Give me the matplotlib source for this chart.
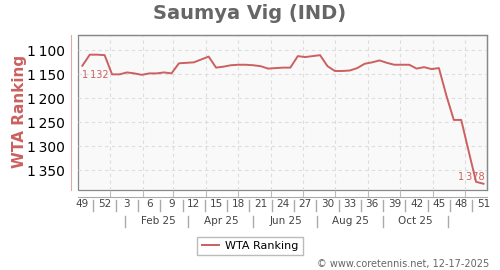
import numpy as np
import pandas as pd
import matplotlib
matplotlib.use('Agg')
import matplotlib.pyplot as plt
import matplotlib.dates as mdates
from matplotlib.lines import Line2D

# data
start_week = '2024-12-02'
ranking = [1132, 1109, 1109, 1110, 1150, 1150, 1146, 1148, 1151, 1148,
           1148, 1146, 1148, 1127, 1126, 1125, 1119, 1113, 1136, 1134,
           1131, 1130, 1130, 1131, 1133, 1138, 1137, 1136, 1136, 1112,
           1114, 1112, 1110, 1133, 1143, 1143, 1142, 1137, 1128, 1125,
           1121, 1126, 1130, 1130, 1130, 1138, 1135, 1139, 1137, 1194,
           1245, 1245, 1310, 1374, 1378]
month_labels = ['Feb 25', 'Apr 25', 'Jun 25', 'Aug 25', 'Oct 25']
month_label_dates = ['2025-02-15', '2025-04-15', '2025-06-15', '2025-08-15', '2025-10-15']
month_sep_dates = ['2025-01-15', '2025-03-15', '2025-05-15', '2025-07-15', '2025-09-15', '2025-11-15']
y_ticks = [1100, 1150, 1200, 1250, 1300, 1350]

mondays = pd.date_range(start_week, periods=len(ranking), freq='7D')
weeks = [d.isocalendar()[1] for d in mondays]
x = mdates.date2num(mondays) + 3.5

red = '#cc6060'
grey = '#888888'

fig = plt.figure(figsize=(5, 2.7), dpi=100)
ax = fig.add_axes([78/500, 1-190/270, 409/500, 155/270])
ax.set_facecolor('#f9f9f9')
ax.patch.set_edgecolor(grey)
ax.patch.set_linewidth(0.9)

ax.plot(x, ranking, color=red, lw=1.4, zorder=3)
ax.set_xlim(x[0] - 4.1, x[-1] + 3.3)
ax.set_ylim(1391, 1068)

# y axis
ax.set_yticks(y_ticks)
ax.set_yticklabels([f'{v//1000}\u2009{v%1000:03d}' for v in y_ticks], color=red, fontsize=7.8)
ax.tick_params(axis='y', length=0, pad=4.5)
ax.grid(True, which='major', axis='both', color='#dddddd', ls=(0, (3, 3)), lw=0.8)
ax.set_axisbelow(True)

# x axis: month gridlines
ax.xaxis.set_major_locator(mdates.MonthLocator())
ax.tick_params(axis='x', direction='in', length=5, color='#bbbbbb', labelbottom=False)

for s in ['top', 'right']:
    ax.spines[s].set_color(grey)
    ax.spines[s].set_linewidth(0.9)
ax.spines['left'].set_position(('outward', 5))
ax.spines['left'].set_color('#e0a8a8')
ax.spines['bottom'].set_position(('outward', 5))
ax.spines['bottom'].set_color('#aaaaaa')

tr = ax.get_xaxis_transform()
# week labels every 3 weeks
for i in range(0, len(x), 3):
    ax.text(x[i], -0.09, str(weeks[i]), transform=tr, ha='center', va='center',
            fontsize=7.5, color='#444444')
    if i + 3 < len(x):
        xm = (x[i] + x[i+3]) / 2
        ax.add_line(Line2D([xm, xm], [-0.065, -0.135], transform=tr, color='#aaaaaa',
                           lw=1, clip_on=False))
# month labels
for lab, d in zip(month_labels, month_label_dates):
    ax.text(mdates.datestr2num(d), -0.197, lab, transform=tr, ha='center', va='center',
            fontsize=7.5, color='#444444')
for d in month_sep_dates:
    xm = mdates.datestr2num(d)
    ax.add_line(Line2D([xm, xm], [-0.168, -0.237], transform=tr, color='#aaaaaa',
                       lw=1, clip_on=False))

# data labels
ax.annotate(f'{ranking[0]//1000}\u2009{ranking[0]%1000:03d}', (x[0], ranking[0]),
            xytext=(0, -7), textcoords='offset points', ha='left', va='center',
            fontsize=7, color=red)
ax.annotate(f'{ranking[-1]//1000}\u2009{ranking[-1]%1000:03d}', (x[-1], ranking[-1]),
            xytext=(1, 5), textcoords='offset points', ha='right', va='center',
            fontsize=7, color=red)

fig.text(0.5, 1-13.5/270, 'Saumya Vig (IND)', ha='center', va='center',
         fontsize=14, fontweight='bold', color='#666666')
fig.text(20/500, 1-111/270, 'WTA Ranking', rotation=90, ha='center', va='center',
         fontsize=11, fontweight='bold', color=red)

handle = Line2D([], [], color=red, lw=1.4)
fig.legend([handle], ['WTA Ranking'], loc='center', bbox_to_anchor=(0.5, 1-246/270),
           fontsize=8, frameon=True, fancybox=False, edgecolor='#aaaaaa',
           handlelength=1.6, handletextpad=0.5, borderpad=0.4, borderaxespad=0)

fig.text(489/500, 1-264/270, '\u00a9 www.coretennis.net, 12-17-2025', ha='right', va='center',
         fontsize=7, color='#666666')

fig.savefig('out.png', dpi=100)
